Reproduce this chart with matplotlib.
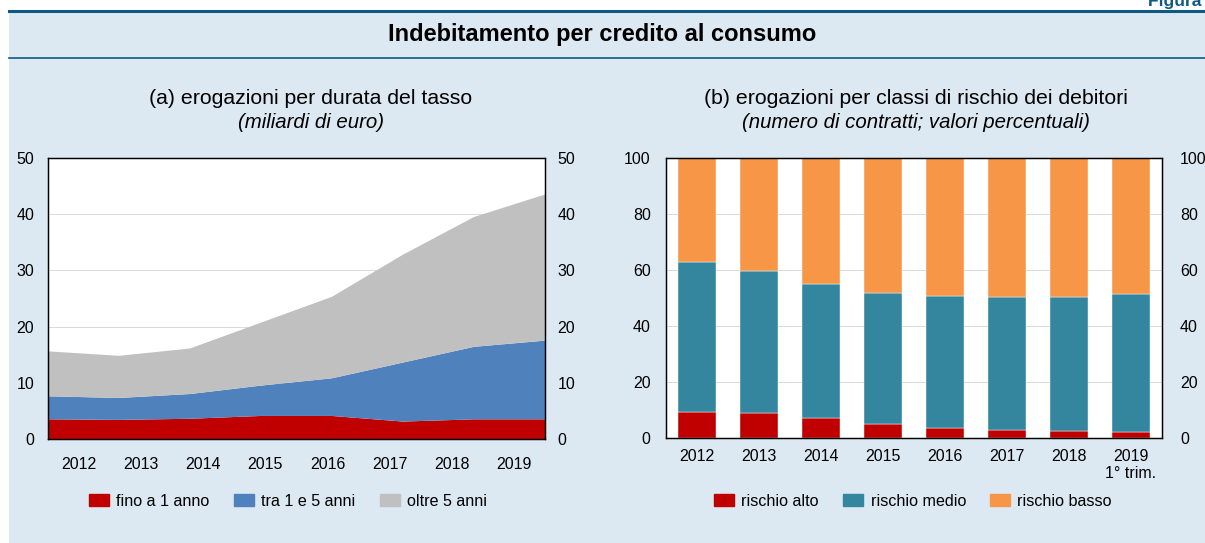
import matplotlib.pyplot as plt
import matplotlib.patches as mpatches
import numpy as np

plt.rcParams["font.family"] = ["Liberation Sans", "DejaVu Sans"]

# ---------------------------------------------------------------------------
# data
years = ["2012", "2013", "2014", "2015", "2016", "2017", "2018", "2019"]
years_b = ["2012", "2013", "2014", "2015", "2016", "2017", "2018", "2019\n1° trim."]

# (a) miliardi di euro
fino_1 = [3.5, 3.4, 3.6, 4.1, 4.1, 3.1, 3.5, 3.5]
tra_1_5 = [4.1, 3.9, 4.4, 5.4, 6.7, 10.5, 12.9, 14.0]
oltre_5 = [8.0, 7.5, 8.1, 11.2, 14.5, 19.2, 23.1, 26.0]

# (b) valori percentuali
rischio_alto = [9.2, 9.0, 7.2, 5.0, 3.7, 2.9, 2.4, 2.3]
rischio_medio = [53.7, 50.8, 47.7, 46.9, 47.1, 47.3, 48.1, 49.1]
rischio_basso = [37.1, 40.2, 45.1, 48.1, 49.2, 49.8, 49.5, 48.6]

RED = "#c00000"
BLUE = "#4f81bd"
GRAY = "#c0c0c0"
TEAL = "#33869e"
ORANGE = "#f79646"
BG = "#dce9f2"
LINE = "#0f5a85"
TICK_FS = 11.5

W, H = 1205, 543
fig = plt.figure(figsize=(W / 100, H / 100), dpi=100)

# background panel + title rules
fig.patches.append(mpatches.Rectangle((9 / W, 0), 1, 1 - 11 / H, transform=fig.transFigure,
                                      facecolor=BG, edgecolor="none", zorder=-10))
fig.add_artist(plt.Line2D([9 / W, 1], [1 - 11 / H] * 2, color=LINE, lw=2.2))
fig.add_artist(plt.Line2D([9 / W, 1], [1 - 58 / H] * 2, color=LINE, lw=1.2))
fig.text(1148 / W, 1 - 6 / H, "Figura 1.1", color=LINE, fontsize=12.5,
         fontweight="bold", va="baseline", ha="left")
fig.text(0.5, 1 - 35 / H, "Indebitamento per credito al consumo", ha="center",
         va="center", fontsize=17, fontweight="bold")

# ---------------------------------------------------------------------------
# (a) area chart
ax1 = fig.add_axes([48 / W, 1 - 439 / H, 497 / W, 281 / H])
x = np.arange(len(years))
ax1.stackplot(x, fino_1, tra_1_5, oltre_5, colors=[RED, BLUE, GRAY], lw=0)
ax1.set_xlim(0, len(years) - 1)
ax1.set_ylim(0, 50)
ax1.set_yticks(range(0, 51, 10))
ax1.grid(axis="y", color="#d9d9d9", lw=0.7)
ax1.set_axisbelow(True)
# year labels sit centred in eight equal slots, ticks mark the data points
ax1.set_xticks([(i + 0.5) * (len(years) - 1) / len(years) for i in range(len(years))])
ax1.set_xticklabels(years)
ax1.set_xticks(x[1:-1], minor=True)
ax1.tick_params(axis="x", which="major", length=0, pad=13, labelsize=TICK_FS)
ax1.tick_params(axis="x", which="minor", direction="in", length=5, width=0.8)
ax1.tick_params(axis="y", length=0, pad=10, labelsize=TICK_FS)
ax1r = ax1.twinx()
ax1r.set_ylim(0, 50)
ax1r.set_yticks(range(0, 51, 10))
ax1r.tick_params(axis="y", length=0, pad=9, labelsize=TICK_FS)
for a in (ax1, ax1r):
    for s in a.spines.values():
        s.set_linewidth(0.9)

fig.text(311 / W, 1 - 98 / H, "(a) erogazioni per durata del tasso", ha="center",
         va="center", fontsize=15.3)
fig.text(311 / W, 1 - 123 / H, "(miliardi di euro)", ha="center", va="center",
         fontsize=14.7, style="italic")

# ---------------------------------------------------------------------------
# (b) stacked bars
ax2 = fig.add_axes([666 / W, 1 - 438 / H, 496 / W, 280 / H])
xb = np.arange(len(years_b))
bw = 0.62
b1 = np.array(rischio_alto)
b2 = np.array(rischio_medio)
ax2.bar(xb, b1, bw, color=RED, edgecolor="white", lw=0.3)
ax2.bar(xb, b2, bw, bottom=b1, color=TEAL, edgecolor="white", lw=0.3)
ax2.bar(xb, rischio_basso, bw, bottom=b1 + b2, color=ORANGE, edgecolor="white", lw=0.3)
ax2.set_xlim(-0.5, len(years_b) - 0.5)
ax2.set_ylim(0, 100)
ax2.set_yticks(range(0, 101, 20))
ax2.grid(axis="y", color="#d9d9d9", lw=0.7)
ax2.set_axisbelow(True)
ax2.set_xticks(xb)
ax2.set_xticklabels(years_b, linespacing=1.15)
ax2.tick_params(axis="x", length=0, pad=8, labelsize=TICK_FS)
ax2.tick_params(axis="y", length=0, pad=11, labelsize=TICK_FS)
ax2r = ax2.twinx()
ax2r.set_ylim(0, 100)
ax2r.set_yticks(range(0, 101, 20))
ax2r.tick_params(axis="y", length=0, pad=13, labelsize=TICK_FS)
for a in (ax2, ax2r):
    for s in a.spines.values():
        s.set_linewidth(0.9)

fig.text(916 / W, 1 - 98 / H, "(b) erogazioni per classi di rischio dei debitori",
         ha="center", va="center", fontsize=15.3)
fig.text(916 / W, 1 - 123 / H, "(numero di contratti; valori percentuali)",
         ha="center", va="center", fontsize=14.7, style="italic")

# ---------------------------------------------------------------------------
# legends
def legend(labels, colors, xc):
    handles = [mpatches.Patch(color=c, label=l) for l, c in zip(labels, colors)]
    fig.legend(handles=handles, loc="center", bbox_to_anchor=(xc / W, 1 - 501 / H),
               ncol=3, frameon=False, fontsize=11.6, handlelength=1.25,
               handleheight=0.7, handletextpad=0.45, columnspacing=1.5)

legend(["fino a 1 anno", "tra 1 e 5 anni", "oltre 5 anni"], [RED, BLUE, GRAY], 288)
legend(["rischio alto", "rischio medio", "rischio basso"], [RED, TEAL, ORANGE], 913)

fig.savefig("out.png", dpi=100)
